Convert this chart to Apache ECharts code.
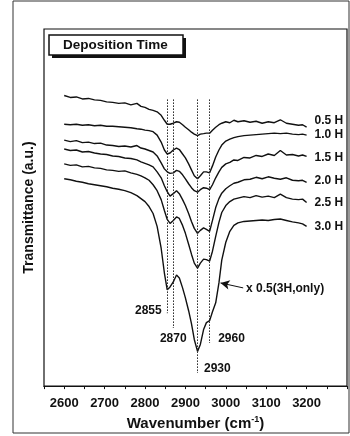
<!DOCTYPE html>
<html>
<head>
<meta charset="utf-8">
<script src="https://cdn.jsdelivr.net/npm/echarts@6/dist/echarts.min.js"></script>
<style>
  html, body { margin: 0; padding: 0; background: #fff; }
  #chart { width: 350px; height: 436px; }
</style>
</head>
<body>
<div id="chart"></div>
<script>
// wavenumber grid (cm-1) shared by all spectra
const wavenumbers = [2600, 2615, 2630, 2645, 2660, 2675, 2690, 2705, 2720, 2735, 2750, 2765, 2780, 2790, 2800, 2810, 2820, 2830, 2840, 2848,
    2855, 2862, 2870, 2878, 2885, 2893, 2900, 2908, 2915, 2922, 2930, 2937, 2945, 2952, 2960, 2967, 2975, 2983, 2990, 3000,
    3010, 3020, 3030, 3045, 3060, 3075, 3090, 3105, 3120, 3135, 3150, 3165, 3180, 3190, 3200];

// transmittance, arbitrary units, stacked with offsets as in the figure
const t05 = [304, 302, 302.5, 300.5, 301, 299.5, 299, 297.5, 297, 296, 296.5, 294.5, 296, 293, 292, 290, 289, 287.5, 284, 279,
    275, 275, 276, 277.5, 277, 274.5, 272, 269.5, 267, 265, 263.5, 265, 265.5, 266, 266, 269, 272, 274.5, 276, 277.5,
    276.5, 279, 277.5, 278.5, 277, 278, 276, 277.5, 276.5, 279.5, 276, 275, 274, 274.5, 272];
const t10 = [275, 274.5, 275, 274, 274.5, 273.5, 274, 273, 273, 272.5, 272, 271.5, 270.5, 270, 269, 268.5, 267.5, 264, 257, 249,
    245, 246, 249, 251, 249.5, 245, 241, 235, 229, 223, 220, 223, 227, 227, 226, 233, 242, 249, 254, 258,
    260, 261.5, 262.5, 263.5, 264, 264.5, 265, 265.5, 266, 265.5, 266, 265, 264.5, 265, 264];
const t15 = [259, 257.5, 258.5, 256.5, 257, 255.5, 256, 254, 253.5, 252.5, 253, 252, 253.5, 251, 250, 248.5, 247, 243, 236, 230,
    227, 225.5, 226, 228.5, 227.5, 224, 220, 215, 211, 208, 206.5, 209, 211, 210.5, 209, 214, 221, 227, 231.5, 235,
    236.5, 239, 238.5, 241.5, 241, 243.5, 242.5, 245, 243.5, 248.5, 244, 244.5, 243, 244, 242.5];
const t20 = [250, 248.5, 249, 247, 247.5, 246, 245, 244.5, 243, 242.5, 241, 240.5, 239, 237, 235.5, 234, 232, 227, 221, 213,
    207, 202.5, 205, 208, 205, 199, 193, 185, 177, 170, 165, 168, 170.5, 169, 167, 178, 191, 200, 205.5, 210,
    213, 215.5, 216.5, 219, 219.5, 221.5, 220, 222, 220.5, 219.5, 221, 218.5, 218, 218.5, 216.5];
const t25 = [235, 233.5, 234, 232, 232.5, 231, 230.5, 229, 228.5, 227.5, 228, 226, 224.5, 223, 221, 218.5, 214, 208, 199, 188,
    179, 175, 178, 181.5, 180, 173, 165, 154, 144, 135, 130, 135, 139, 138.5, 137, 147, 162, 176, 186, 193,
    197, 199.5, 200.5, 202, 201, 203, 201.5, 202.5, 201, 204.5, 201, 199.5, 199, 199.5, 196];
const t30 = [220, 219, 217.5, 216.5, 215, 214, 213, 212, 210.5, 209.5, 208, 206, 203, 200, 197, 192, 185, 172, 150, 125,
    108, 111, 116, 123, 120, 110, 100, 87, 74, 58, 46, 53, 68, 75, 77, 86, 95, 115, 138, 156,
    167, 173, 175.5, 177, 177.5, 178, 178.5, 178, 179, 179.5, 178, 176.5, 175.5, 174.5, 172];

const seriesNames = ['0.5 H', '1.0 H', '1.5 H', '2.0 H', '2.5 H', '3.0 H'];
const seriesValues = [t05, t10, t15, t20, t25, t30];

// band positions marked with dotted lines
const peakPositions = [2855, 2870, 2930, 2960];
const peakLineTop = 300;
const peakLineBottom = [85, 70, 25, 55];

// x 0.5 note: arrow from text to the 3.0 H curve
const noteText = 'x 0.5(3H,only)';
const noteFrom = [3043, 110];
const noteTo = [2987, 115];

const tickLabels = [2600, 2700, 2800, 2900, 3000, 3100, 3200];

const FONT = 'Liberation Sans';

// where each band label sits relative to the end of its dotted line
const peakLabelStyle = [
    { position: 'left', distance: 5, offset: [0, -2] },
    { position: 'bottom', distance: 5, offset: [0, 0] },
    { position: 'right', distance: 6, offset: [0, -4] },
    { position: 'right', distance: 8, offset: [0, -4] },
];
const endLabelOffset = [[0, -7], [0, 0], [0, 1], [0, -2], [0, 0], [0, 0]];

const chart = echarts.init(document.getElementById('chart'));

const spectra = seriesNames.map((name, k) => ({
    name,
    type: 'line',
    data: wavenumbers.map((w, i) => [w, seriesValues[k][i]]),
    symbol: 'none',
    lineStyle: { color: '#111', width: 1.4 },
    endLabel: {
        show: true,
        formatter: '{a}',
        distance: 8,
        offset: endLabelOffset[k],
        color: '#111',
        fontFamily: FONT,
        fontWeight: 'bold',
        fontSize: 12,
    },
}));

// arrow + note on the 3.0 H curve
spectra[5].markLine = {
    silent: true,
    symbol: ['none', 'arrow'],
    symbolSize: [7, 9],
    lineStyle: { color: '#111', width: 1, type: 'solid' },
    label: {
        show: true,
        position: 'start',
        formatter: noteText,
        distance: 3,
        color: '#111',
        fontFamily: FONT,
        fontWeight: 'bold',
        fontSize: 12,
    },
    data: [[{ coord: noteFrom }, { coord: noteTo }]],
};

const peaks = {
    name: 'peaks',
    type: 'scatter',
    symbolSize: 1,
    itemStyle: { color: '#222', opacity: 1 },
    data: peakPositions.map((p, i) => ({
        value: [p, peakLineBottom[i]],
        label: {
            show: true,
            formatter: String(p),
            position: peakLabelStyle[i].position,
            distance: peakLabelStyle[i].distance,
            offset: peakLabelStyle[i].offset,
            color: '#111',
            opacity: 1,
            fontFamily: FONT,
            fontWeight: 'bold',
            fontSize: 12,
        },
    })),
    markLine: {
        silent: true,
        symbol: ['none', 'none'],
        lineStyle: { color: '#222', width: 1, type: [1.5, 1.5] },
        label: { show: false },
        data: peakPositions.map((p, i) => [{ coord: [p, peakLineTop] }, { coord: [p, peakLineBottom[i]] }]),
    },
};

chart.setOption({
    animation: false,
    backgroundColor: '#fff',
    title: {
        text: 'Deposition Time',
        left: 49,
        top: 35,
        z: 10,
        padding: [2, 14],
        textStyle: {
            fontFamily: FONT,
            fontWeight: 'bold',
            fontSize: 13.5,
            lineHeight: 16,
            color: '#111',
        },
    },
    graphic: [
        {
            type: 'rect',
            silent: true,
            shape: { x: 13, y: 1, width: 336, height: 432 },
            style: { fill: 'none', stroke: '#333', lineWidth: 1 },
        },
        // legend-style box with a hard drop shadow
        {
            type: 'rect',
            silent: true,
            z: 5,
            shape: { x: 52, y: 38, width: 134, height: 20 },
            style: { fill: '#111' },
        },
        {
            type: 'rect',
            silent: true,
            z: 6,
            shape: { x: 49, y: 35, width: 134, height: 20 },
            style: { fill: '#fff', stroke: '#111', lineWidth: 1.5 },
        },
    ],
    grid: {
        left: 44,
        top: 29,
        width: 303,
        height: 359,
        show: true,
        borderColor: '#111',
        borderWidth: 1.2,
        backgroundColor: 'transparent',
    },
    xAxis: {
        type: 'value',
        min: 2550,
        max: 3300,
        interval: 50,
        name: 'Wavenumber (cm{sup|-1})',
        nameLocation: 'middle',
        nameGap: 27,
        nameTextStyle: {
            fontFamily: FONT,
            fontWeight: 'bold',
            fontSize: 15,
            color: '#111',
            rich: {
                sup: { fontFamily: FONT, fontWeight: 'bold', fontSize: 9, color: '#111', padding: [0, 0, 8, 0] },
            },
        },
        axisLine: { show: true, lineStyle: { color: '#111', width: 1.2 } },
        axisTick: { show: true, length: 3, lineStyle: { color: '#111' } },
        axisLabel: {
            customValues: tickLabels,
            formatter: (v) => (tickLabels.includes(v) ? String(v) : ''),
            margin: 11,
            color: '#111',
            fontFamily: FONT,
            fontWeight: 'bold',
            fontSize: 13,
        },
        splitLine: { show: false },
    },
    yAxis: {
        type: 'value',
        min: 11,
        max: 371,
        name: 'Transmittance (a.u.)',
        nameLocation: 'middle',
        nameGap: 8,
        nameTextStyle: {
            fontFamily: FONT,
            fontWeight: 'bold',
            fontSize: 14,
            color: '#111',
        },
        axisLine: { show: false },
        axisTick: { show: false },
        axisLabel: { show: false },
        splitLine: { show: false },
    },
    series: [...spectra, peaks],
});
</script>
</body>
</html>
